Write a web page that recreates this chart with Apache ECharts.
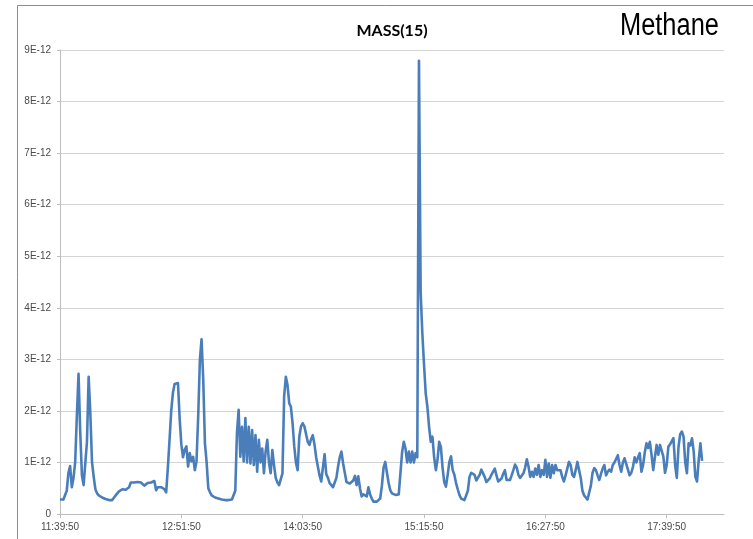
<!DOCTYPE html>
<html>
<head>
<meta charset="utf-8">
<title>MASS(15) - Methane</title>
<script src="https://cdn.jsdelivr.net/npm/echarts@6/dist/echarts.min.js"></script>
<style>
  html, body { margin: 0; padding: 0; background: #ffffff; }
  #chart { width: 753px; height: 539px; }
</style>
</head>
<body>
<div id="chart"></div>
<script>
// Ion current for mass 15, one reading per minute, in units of 1E-12
const startTime = '11:39:50';
const categoryCount = 395;          // 11:39:50 .. 18:13:50, one per minute
const tickLabels = ['11:39:50', '12:51:50', '14:03:50', '15:15:50', '16:27:50', '17:39:50'];
const yTicks = [0, 1, 2, 3, 4, 5, 6, 7, 8, 9];
const unitSuffix = 'E-12';

const mass15 = [
  0.28,0.28,0.28,0.30,0.45,0.80,0.93,0.52,0.70,1.00,
  1.90,2.72,1.60,0.75,0.56,0.54,1.40,2.66,1.95,1.00,
  0.72,0.48,0.40,0.36,0.34,0.32,0.30,0.29,0.28,0.27,
  0.27,0.27,0.30,0.36,0.40,0.44,0.47,0.48,0.46,0.47,
  0.46,0.52,0.61,0.62,0.61,0.63,0.62,0.62,0.61,0.62,
  0.55,0.58,0.60,0.59,0.61,0.60,0.64,0.46,0.52,0.54,
  0.52,0.52,0.48,0.42,0.90,1.44,2.00,2.35,2.52,2.50,
  2.54,1.85,1.35,1.10,1.25,1.31,0.92,1.18,1.02,1.11,
  0.85,1.02,1.89,2.99,3.39,2.60,1.37,1.00,0.50,0.42,
  0.36,0.34,0.32,0.31,0.30,0.29,0.28,0.27,0.27,0.28,
  0.27,0.27,0.28,0.27,0.45,1.57,2.02,1.11,1.69,1.02,
  1.86,1.00,1.69,0.98,1.63,0.95,1.53,0.82,1.44,1.00,
  1.27,0.79,1.21,1.44,1.00,0.79,1.24,0.95,0.70,0.61,
  0.56,0.54,0.79,2.28,2.66,2.50,2.15,2.08,1.76,1.31,
  1.00,0.85,1.50,1.70,1.76,1.70,1.55,1.40,1.34,1.45,
  1.53,1.35,1.10,0.92,0.75,0.63,0.90,1.16,0.77,0.70,
  0.60,0.56,0.52,0.50,0.70,0.92,1.10,1.21,0.98,0.80,
  0.62,0.60,0.59,0.58,0.65,0.74,0.56,0.73,0.50,0.34,
  0.38,0.40,0.34,0.52,0.38,0.30,0.24,0.23,0.24,0.26,
  0.30,0.55,0.90,1.01,0.80,0.60,0.46,0.40,0.38,0.37,
  0.37,0.38,0.40,1.20,1.40,1.27,1.00,1.21,1.00,1.21,
  1.00,1.18,1.10,8.79,4.30,3.50,2.90,2.34,2.08,1.69,
  1.40,1.50,1.10,0.85,1.05,1.40,1.30,0.90,0.62,0.53,
  0.75,1.00,1.12,0.85,0.76,0.60,0.48,0.37,0.30,0.27,
  0.27,0.28,0.45,0.72,0.80,0.82,0.76,0.65,0.62,0.76,
  0.86,0.85,0.72,0.62,0.60,0.69,0.76,0.82,0.88,0.75,
  0.63,0.66,0.69,0.78,0.85,0.66,0.63,0.66,0.75,0.85,
  0.96,0.90,0.76,0.70,0.72,0.79,0.90,1.06,0.92,0.72,
  0.82,0.72,0.88,0.76,0.95,0.72,0.85,0.76,1.05,0.72,
  0.98,0.70,0.95,0.79,0.95,0.85,0.86,0.85,0.72,0.63,
  0.75,0.88,1.01,0.95,0.76,0.72,0.85,1.01,0.98,0.70,
  0.45,0.36,0.32,0.28,0.29,0.55,0.80,0.89,0.85,0.75,
  0.66,0.78,0.88,0.95,0.75,0.82,0.86,0.82,0.95,1.00,
  0.98,1.14,0.95,0.82,1.00,1.08,1.05,0.86,0.75,0.80,
  0.92,1.10,1.00,1.10,1.18,0.82,0.95,1.20,1.37,1.28,
  1.40,1.15,0.85,1.10,1.34,1.15,1.34,1.35,1.12,0.80,
  0.95,1.31,1.35,1.37,1.47,0.95,0.70,1.30,1.55,1.60,
  1.50,1.00,0.79,1.37,1.33,1.47,1.22,0.72,0.63,1.05,
  1.37,1.03
];

// Minute-by-minute time stamps for the category axis
function buildTimes(start, count) {
  const [h, m, s] = start.split(':').map(Number);
  const out = [];
  for (let i = 0; i < count; i++) {
    const total = h * 60 + m + i;
    const hh = Math.floor(total / 60) % 24;
    const mm = total % 60;
    out.push(hh + ':' + String(mm).padStart(2, '0') + ':' + String(s).padStart(2, '0'));
  }
  return out;
}
const times = buildTimes(startTime, categoryCount);

const chart = echarts.init(document.getElementById('chart'), null, { renderer: 'canvas' });

chart.setOption({
  animation: false,
  backgroundColor: '#ffffff',
  graphic: [
    {
      type: 'polyline',
      silent: true,
      shape: { points: [[17.5, 545], [17.5, 5.5], [760, 5.5]] },
      style: { stroke: '#8c8c8c', lineWidth: 1, fill: null }
    },
    {
      // narrow-looking caption: regular sans squeezed horizontally
      type: 'text',
      x: 620,
      y: 42,
      scaleX: 0.82,
      silent: true,
      style: {
        text: 'Methane',
        font: '31px "Liberation Sans", Arial, sans-serif',
        fill: '#000000',
        align: 'left',
        verticalAlign: 'bottom'
      }
    }
  ],
  title: {
    text: 'MASS(15)',
    left: 387,
    top: 18,
    textAlign: 'center',
    textStyle: {
      fontFamily: 'Lato, "Liberation Sans", sans-serif',
      fontWeight: 'bold',
      fontSize: 16,
      color: '#000000'
    }
  },
  grid: { left: 60, right: 29, top: 50, bottom: 25, containLabel: false },
  xAxis: {
    type: 'category',
    data: times,
    boundaryGap: false,
    axisLine: { lineStyle: { color: '#bdbdbd', width: 1 } },
    axisTick: {
      show: true,
      length: 4,
      lineStyle: { color: '#bdbdbd' },
      interval: (idx, val) => tickLabels.includes(val)
    },
    axisLabel: {
      interval: (idx, val) => tickLabels.includes(val),
      margin: 8,
      fontFamily: '"Liberation Sans", Arial, sans-serif',
      fontSize: 10,
      color: '#4a4a4a'
    },
    splitLine: { show: false }
  },
  yAxis: {
    type: 'value',
    min: yTicks[0],
    max: yTicks[yTicks.length - 1],
    interval: 1,
    axisLine: { show: true, lineStyle: { color: '#bdbdbd', width: 1 } },
    axisTick: { show: true, length: 3, lineStyle: { color: '#bdbdbd' } },
    axisLabel: {
      margin: 9,
      fontFamily: '"Liberation Sans", Arial, sans-serif',
      fontSize: 10,
      color: '#4a4a4a',
      formatter: v => (v === 0 ? '0' : v + unitSuffix)
    },
    splitLine: { show: true, lineStyle: { color: '#d4d4d4', width: 1 } }
  },
  series: [
    {
      name: 'MASS(15)',
      type: 'line',
      data: mass15,
      showSymbol: false,
      symbol: 'none',
      smooth: false,
      lineStyle: { color: '#4a7ebb', width: 2.6, join: 'round' },
      itemStyle: { color: '#4a7ebb' }
    }
  ]
});
</script>
</body>
</html>
